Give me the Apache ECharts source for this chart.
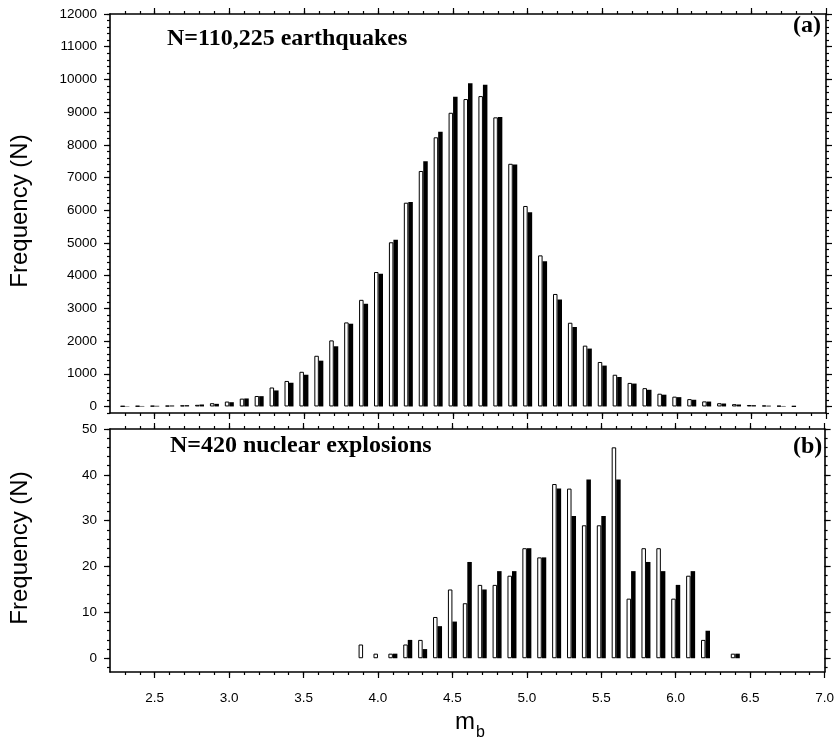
<!DOCTYPE html>
<html>
<head>
<meta charset="utf-8">
<script src="https://cdn.jsdelivr.net/npm/echarts@6/dist/echarts.min.js"></script>
<style>
  html, body { margin: 0; padding: 0; background: #fff; }
  #chart { width: 837px; height: 745px; }
</style>
</head>
<body>
<div id="chart"></div>
<script>
// (a) earthquakes, 0.1 mb bins
const quakeBins = [2.3, 2.4, 2.5, 2.6, 2.7, 2.8, 2.9, 3.0, 3.1, 3.2, 3.3, 3.4, 3.5, 3.6, 3.7, 3.8,
  3.9, 4.0, 4.1, 4.2, 4.3, 4.4, 4.5, 4.6, 4.7, 4.8, 4.9, 5.0, 5.1, 5.2, 5.3, 5.4, 5.5, 5.6,
  5.7, 5.8, 5.9, 6.0, 6.1, 6.2, 6.3, 6.4, 6.5, 6.6, 6.7, 6.8];
const quakeWhite = [10, 15, 20, 25, 35, 50, 100, 150, 240, 320, 580, 780, 1060, 1550, 2020, 2570,
  3260, 4110, 5020, 6230, 7200, 8230, 8980, 9400, 9490, 8840, 7420, 6130, 4620, 3440, 2560, 1860, 1360, 970,
  720, 560, 390, 300, 225, 155, 100, 70, 45, 30, 20, 8];
const quakeBlack = [10, 15, 20, 30, 40, 60, 80, 130, 245, 315, 490, 725, 970, 1400, 1840, 2530,
  3140, 4060, 5100, 6250, 7500, 8400, 9470, 9880, 9840, 8850, 7400, 5940, 4440, 3270, 2430, 1770, 1250, 900,
  700, 510, 360, 285, 205, 150, 90, 60, 40, 25, 15, 0];

// (b) nuclear explosions
const blastBins = [3.9, 4.0, 4.1, 4.2, 4.3, 4.4, 4.5, 4.6, 4.7, 4.8, 4.9, 5.0, 5.1,
  5.2, 5.3, 5.4, 5.5, 5.6, 5.7, 5.8, 5.9, 6.0, 6.1, 6.2, 6.3, 6.4];
const blastWhite = [3, 1, 1, 3, 4, 9, 15, 12, 16, 16, 18, 24, 22, 38, 37, 29, 29, 46, 13, 24, 24, 13, 18, 4, 0, 1];
const blastBlack = [0, 0, 1, 4, 2, 7, 8, 21, 15, 19, 19, 24, 22, 37, 31, 39, 31, 39, 19, 21, 19, 16, 19, 6, 0, 1];

// ticks
const xMajor = [2.5, 3.0, 3.5, 4.0, 4.5, 5.0, 5.5, 6.0, 6.5, 7.0];
const yMajorA = [0, 1000, 2000, 3000, 4000, 5000, 6000, 7000, 8000, 9000, 10000, 11000, 12000];
const yMajorB = [0, 10, 20, 30, 40, 50];

const xMinor = [], yMinorA = [], yMinorB = [];
for (let i = 23; i < 70; i++) xMinor.push(i / 10);
for (let v = -200; v <= 12000; v += 200) yMinorA.push(v);
for (let v = -2; v <= 50; v += 2) yMinorB.push(v);

const INK = '#000';
const tickStyle = { color: INK, width: 1.2 };

function xAxes(g, withLabels) {
  const base = { type: 'value', gridIndex: g, min: 2.2, max: 7.0, splitLine: { show: false } };
  const line = { show: true, onZero: false, lineStyle: { color: INK, width: 1.6 } };
  const out = [];
  ['bottom', 'top'].forEach(pos => {
    out.push({
      ...base, position: pos, axisLine: line,
      axisTick: { show: true, customValues: xMajor, length: 6, lineStyle: tickStyle },
      axisLabel: {
        show: withLabels && pos === 'bottom', customValues: xMajor,
        formatter: v => v.toFixed(1), color: INK, fontSize: 13.5,
        fontFamily: 'Liberation Sans', margin: 19
      }
    });
    out.push({
      ...base, position: pos, axisLine: { show: false, onZero: false },
      axisTick: { show: true, customValues: xMinor, length: 3, lineStyle: tickStyle },
      axisLabel: { show: false }
    });
  });
  return out;
}

function yAxes(g, min, max, major, minor) {
  const base = { type: 'value', gridIndex: g, min: min, max: max, splitLine: { show: false } };
  const line = { show: true, onZero: false, lineStyle: { color: INK, width: 1.6 } };
  const out = [];
  ['left', 'right'].forEach(pos => {
    out.push({
      ...base, position: pos, axisLine: line,
      axisTick: { show: true, customValues: major, length: 6, lineStyle: tickStyle },
      axisLabel: {
        show: pos === 'left', customValues: major, formatter: v => String(v),
        color: INK, fontSize: 13.5, fontFamily: 'Liberation Sans', margin: 13
      }
    });
    out.push({
      ...base, position: pos, axisLine: { show: false, onZero: false },
      axisTick: { show: true, customValues: minor, length: 3, lineStyle: tickStyle },
      axisLabel: { show: false }
    });
  });
  return out;
}

function pairs(bins, vals) {
  return bins.map((b, i) => [b, vals[i] === 0 ? '-' : vals[i]]);
}

function barSeries(bins, vals, g, filled) {
  return {
    type: 'bar',
    xAxisIndex: g * 4,
    yAxisIndex: g * 4,
    data: pairs(bins, vals),
    barWidth: 4.5,
    barGap: '0%',
    itemStyle: filled
      ? { color: INK }
      : { color: '#fff', borderColor: INK, borderWidth: 1 }
  };
}

const chart = echarts.init(document.getElementById('chart'), null, { renderer: 'canvas' });

const serif = 'bold 24px "Liberation Serif", "Times New Roman", serif';
const sans = '24px "Liberation Sans", Arial, sans-serif';

chart.setOption({
  animation: false,
  backgroundColor: '#fff',
  grid: [
    { left: 110, top: 14, width: 716, height: 399 },
    { left: 110, top: 429, width: 716, height: 243 }
  ],
  xAxis: [...xAxes(0, false), ...xAxes(1, true)],
  yAxis: [...yAxes(0, -200, 12000, yMajorA, yMinorA), ...yAxes(1, -3, 50, yMajorB, yMinorB)],
  series: [
    barSeries(quakeBins, quakeWhite, 0, false),
    barSeries(quakeBins, quakeBlack, 0, true),
    barSeries(blastBins, blastWhite, 1, false),
    barSeries(blastBins, blastBlack, 1, true)
  ],
  graphic: [
    { type: 'text', left: 167, top: 27, style: { text: 'N=110,225 earthquakes', font: serif, fill: INK } },
    { type: 'text', left: 793, top: 14, style: { text: '(a)', font: serif, fill: INK } },
    { type: 'text', left: 170, top: 434, style: { text: 'N=420 nuclear explosions', font: serif, fill: INK } },
    { type: 'text', left: 793, top: 435, style: { text: '(b)', font: serif, fill: INK } },
    { type: 'text', x: 20, y: 211, rotation: Math.PI / 2,
      style: { text: 'Frequency (N)', font: sans, fill: INK, align: 'center', verticalAlign: 'middle' } },
    { type: 'text', x: 20, y: 548, rotation: Math.PI / 2,
      style: { text: 'Frequency (N)', font: sans, fill: INK, align: 'center', verticalAlign: 'middle' } },
    { type: 'text', x: 455, y: 734,
      style: { text: 'm', font: '24px "Liberation Sans", Arial, sans-serif', fill: INK, verticalAlign: 'bottom' } },
    { type: 'text', x: 476, y: 741,
      style: { text: 'b', font: '16px "Liberation Sans", Arial, sans-serif', fill: INK, verticalAlign: 'bottom' } }
  ]
});
</script>
</body>
</html>
